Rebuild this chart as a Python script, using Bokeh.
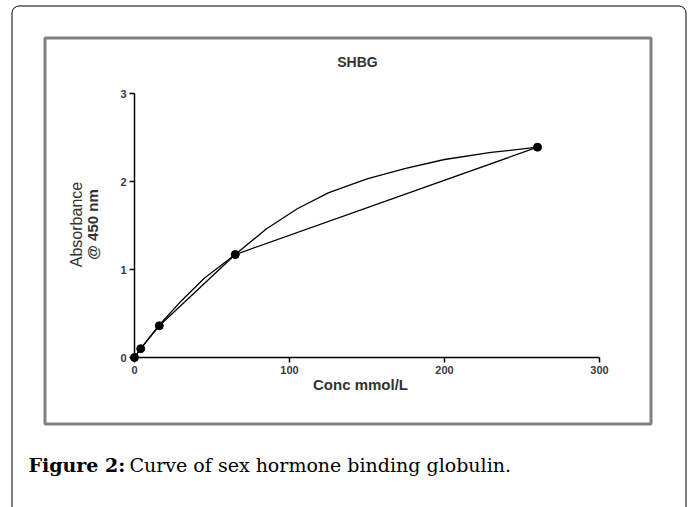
from bokeh.plotting import figure
from bokeh.models import Range1d, FixedTicker, Label, BoxAnnotation
from bokeh.embed import file_html
from bokeh.resources import INLINE
import math

# ---- data ----
conc = [0, 4, 16, 65, 260]
absorbance = [0.0, 0.10, 0.36, 1.17, 2.39]

fit_conc = [0, 4, 16, 30, 45, 65, 85, 105, 125, 150, 175, 200, 230, 260]
fit_abs = [0.0, 0.10, 0.37, 0.64, 0.90, 1.17, 1.46, 1.69, 1.87, 2.03, 2.15, 2.25, 2.33, 2.39]

x_ticks = [0, 100, 200, 300]
y_ticks = [0, 1, 2, 3]

title_text = "SHBG"
x_title = "Conc mmol/L"
y_title_1 = "Absorbance"
y_title_2 = "@ 450 nm"
caption_bold = "Figure 2:"
caption_rest = "Curve of sex hormone binding globulin."

# ---- layout (page pixels) ----
W, H = 691, 507
PX0, PXS = 134.0, 1.55      # page x of conc=0, px per unit
PY0, PYS = 357.0, 88.0      # page y of abs=0, px per unit


def dx(px):
    return (px - PX0) / PXS


def dy(py):
    return (PY0 - py) / PYS


p = figure(width=W, height=H, output_backend="svg", toolbar_location=None,
           x_range=Range1d(dx(0), dx(W)), y_range=Range1d(dy(H), dy(0)),
           min_border=0)
p.outline_line_color = None
p.grid.visible = False
p.background_fill_color = "white"
p.border_fill_color = "white"

for ax, ticks, bnd in ((p.xaxis, x_ticks, (0, 300)), (p.yaxis, y_ticks, (0, 3))):
    ax.fixed_location = 0
    ax.bounds = bnd
    ax.ticker = FixedTicker(ticks=ticks)
    ax.minor_tick_line_color = None
    ax.major_tick_in = 0
    ax.major_tick_out = 5
    ax.major_tick_line_width = 1.5
    ax.axis_line_width = 1.5
    ax.axis_line_color = "black"
    ax.major_tick_line_color = "black"
    ax.major_label_text_font = "Liberation Sans"
    ax.major_label_text_font_size = "11px"
    ax.major_label_text_font_style = "bold"
    ax.major_label_text_color = "#3a3a3a"
    ax.major_label_standoff = 3

# fitted curve and point-to-point line
p.line(fit_conc, fit_abs, line_color="black", line_width=1.3)
p.line(conc, absorbance, line_color="black", line_width=1.3)
p.scatter(conc, absorbance, size=8, marker="circle", fill_color="black", line_color="black")

# titles
p.add_layout(Label(x=dx(357), y=dy(61), text=title_text, text_align="center",
                   text_baseline="middle", text_font="Liberation Sans",
                   text_font_style="bold", text_font_size="14px", text_color="#333333"))
p.add_layout(Label(x=dx(360), y=dy(384), text=x_title, text_align="center",
                   text_baseline="middle", text_font="Liberation Sans",
                   text_font_style="bold", text_font_size="15px", text_color="#333333"))
p.add_layout(Label(x=dx(76), y=dy(224), text=y_title_1, text_align="center",
                   text_baseline="middle", angle=math.pi / 2, text_font="Liberation Sans",
                   text_font_size="16px", text_color="#333333"))
p.add_layout(Label(x=dx(92), y=dy(224), text=y_title_2, text_align="center",
                   text_baseline="middle", angle=math.pi / 2, text_font="Liberation Sans",
                   text_font_size="15px", text_font_style="bold", text_color="#333333"))

# caption
p.add_layout(Label(x=dx(28), y=dy(464), text=caption_bold, text_baseline="alphabetic",
                   text_font="DejaVu Serif", text_font_style="bold",
                   text_font_size="19px", text_color="black"))
p.add_layout(Label(x=dx(129), y=dy(464), text=caption_rest, text_baseline="alphabetic",
                   text_font="DejaVu Serif", text_font_size="19px", text_color="black"))

# frames
p.add_layout(BoxAnnotation(left=dx(44.5), right=dx(650.5), top=dy(37.5), bottom=dy(423.5),
                           fill_alpha=0, line_color="#808080", line_alpha=1.0, line_width=3))
p.add_layout(BoxAnnotation(left=dx(11.5), right=dx(685.5), top=dy(5.5), bottom=dy(540),
                           fill_alpha=0, line_color="black", line_alpha=1.0, line_width=1,
                           border_radius=7))

open("out.html", "w").write(file_html(p, INLINE))
